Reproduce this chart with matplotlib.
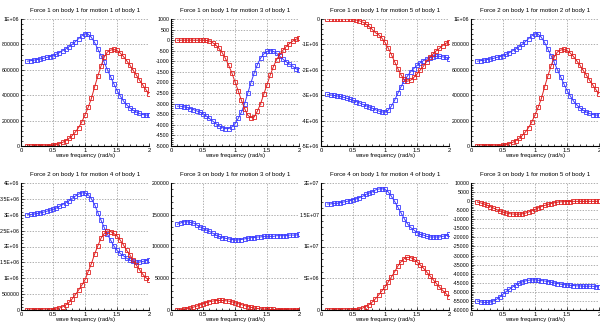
import matplotlib
matplotlib.use("Agg")
import matplotlib.pyplot as plt
from matplotlib.ticker import AutoMinorLocator
import numpy as np

plt.rcParams['font.family'] = ['Liberation Sans', 'DejaVu Sans']

freq = [0.10, 0.15, 0.20, 0.25, 0.30, 0.35, 0.40, 0.45, 0.50, 0.55,
        0.60, 0.65, 0.70, 0.75, 0.80, 0.85, 0.90, 0.95, 1.00, 1.05,
        1.10, 1.15, 1.20, 1.25, 1.30, 1.35, 1.40, 1.45, 1.50, 1.55,
        1.60, 1.65, 1.70, 1.75, 1.80, 1.85, 1.90, 1.95, 2.00]

titles = ["Force 1 on body 1 for motion 1 of body 1",
          "Force 1 on body 1 for motion 3 of body 1",
          "Force 1 on body 1 for motion 5 of body 1",
          "Force 2 on body 1 for motion 2 of body 1",
          "Force 2 on body 1 for motion 4 of body 1",
          "Force 3 on body 1 for motion 3 of body 1",
          "Force 4 on body 1 for motion 4 of body 1",
          "Force 3 on body 1 for motion 5 of body 1"]
xlabel = "wave frequency (rad/s)"

# Panel 1 (thousands)
p1_blue = [668, 672, 676, 680, 685, 690, 697, 704, 712, 722,
           735, 750, 765, 782, 800, 822, 845, 868, 885, 880,
           855, 815, 765, 712, 660, 600, 545, 490, 437, 395,
           355, 325, 300, 282, 268, 256, 248, 244, 242]
p1_red = [0, 0, 0, 0, 1, 1, 2, 3, 5, 10,
          18, 28, 42, 60, 82, 110, 145, 190, 245, 305,
          375, 465, 550, 630, 700, 740, 755, 760, 752, 732,
          705, 672, 638, 598, 560, 520, 482, 445, 410]
# Panel 2
p2_blue = [-3120, -3120, -3150, -3180, -3230, -3280, -3340, -3400, -3470, -3580,
           -3700, -3820, -3940, -4050, -4130, -4180, -4180, -4100, -3940, -3700,
           -3400, -3000, -2500, -2000, -1550, -1150, -850, -650, -530, -500,
           -530, -620, -760, -900, -1020, -1130, -1230, -1340, -1420]
p2_red = [0, 0, 0, 0, 0, 0, 0, 0, 0, -10,
          -40, -120, -230, -390, -595, -860, -1180, -1540, -1970, -2390,
          -2840, -3230, -3550, -3660, -3630, -3350, -3000, -2550, -2100, -1650,
          -1250, -920, -680, -470, -300, -160, -50, 40, 100]
# Panel 3 (millions)
p3_blue = [-2.97, -2.99, -3.01, -3.03, -3.05, -3.08, -3.12, -3.16, -3.20, -3.25,
           -3.30, -3.36, -3.41, -3.46, -3.51, -3.57, -3.62, -3.66, -3.66, -3.59,
           -3.43, -3.20, -2.93, -2.67, -2.43, -2.25, -2.08, -1.95, -1.83, -1.72,
           -1.64, -1.58, -1.53, -1.49, -1.47, -1.47, -1.49, -1.51, -1.57]
p3_red = [0, 0, 0, 0, 0, 0, 0, 0, -0.01, -0.04,
          -0.07, -0.12, -0.20, -0.29, -0.41, -0.54, -0.62, -0.75, -0.92, -1.15,
          -1.40, -1.68, -1.95, -2.20, -2.38, -2.45, -2.41, -2.30, -2.17, -2.01,
          -1.86, -1.68, -1.51, -1.38, -1.25, -1.16, -1.05, -0.96, -0.89]
# Panel 4 (thousands)
p4_blue = list(p1_blue)
p4_red = list(p1_red)
# Panel 5 (millions)
p5_blue = [3.00, 3.01, 3.02, 3.04, 3.06, 3.08, 3.11, 3.14, 3.17, 3.21,
           3.26, 3.32, 3.38, 3.44, 3.52, 3.59, 3.65, 3.69, 3.69, 3.63,
           3.50, 3.32, 3.07, 2.83, 2.60, 2.39, 2.20, 2.02, 1.88, 1.78,
           1.71, 1.63, 1.57, 1.53, 1.51, 1.51, 1.53, 1.55, 1.59]
p5_red = [0, 0, 0, 0, 0, 0, 0, 0, 0.01, 0.03,
          0.06, 0.10, 0.16, 0.24, 0.35, 0.48, 0.63, 0.78, 0.95, 1.21,
          1.46, 1.76, 2.02, 2.26, 2.41, 2.49, 2.47, 2.41, 2.33, 2.20,
          2.05, 1.88, 1.74, 1.57, 1.42, 1.27, 1.13, 1.02, 0.94]
# Panel 6 (thousands)
p6_blue = [135, 137, 139, 139, 138, 137, 134, 131, 129, 126,
           124, 121, 118, 116, 114, 113, 112, 111, 110.5, 110.5,
           111, 112, 113, 114, 114, 115, 115, 116, 116, 116,
           116, 117, 117, 117, 117, 118, 118, 118, 119]
p6_red = [0, 0.5, 1, 2, 3, 4.5, 6, 8, 10, 11.5,
          13, 14, 14.8, 15, 15, 14.6, 14, 13, 11.5, 10,
          8.5, 7, 5.5, 4.2, 3.2, 2.4, 1.8, 1.4, 1.1, 0.9,
          0.8, 0.7, 0.6, 0.6, 0.5, 0.5, 0.5, 0.5, 0.5]
# Panel 7 (millions)
p7_blue = [16.7, 16.7, 16.8, 16.8, 16.9, 17.0, 17.1, 17.2, 17.4, 17.5,
           17.7, 17.9, 18.2, 18.4, 18.6, 18.9, 19.05, 19.1, 19.0, 18.6,
           17.9, 17.1, 16.2, 15.3, 14.4, 13.6, 13.0, 12.6, 12.2, 11.9,
           11.8, 11.6, 11.5, 11.5, 11.5, 11.5, 11.6, 11.7, 11.9]
p7_red = [0, 0, 0, 0, 0, 0, 0, 0, 0, 0.05,
          0.15, 0.3, 0.55, 0.85, 1.25, 1.75, 2.35, 3.0, 3.6, 4.4,
          5.2, 6.0, 6.9, 7.6, 8.1, 8.3, 8.25, 8.0, 7.6, 7.1,
          6.6, 6.0, 5.4, 4.8, 4.2, 3.6, 3.1, 2.6, 2.1]
# Panel 8 (thousands)
p8_blue = [-55.0, -55.6, -55.8, -55.8, -55.6, -55.0, -54.1, -52.8, -51.3, -49.8,
           -48.6, -47.3, -46.2, -45.2, -44.5, -44.0, -43.6, -43.4, -43.4, -43.6,
           -43.8, -44.0, -44.3, -44.7, -45.1, -45.4, -45.8, -46.0, -46.2, -46.4,
           -46.5, -46.7, -46.7, -46.9, -46.9, -46.9, -46.9, -47.1, -47.3]
p8_red = [-0.5, -1.0, -1.5, -2.2, -3.0, -3.8, -4.6, -5.4, -6.0, -6.5,
          -6.9, -7.1, -7.2, -7.2, -7.0, -6.6, -6.0, -5.3, -4.5, -3.7,
          -3.0, -2.4, -1.8, -1.3, -0.9, -0.6, -0.4, -0.3, -0.2, -0.2,
          -0.1, -0.1, -0.1, -0.1, -0.1, -0.1, -0.1, -0.1, -0.1]

scales = [1e3, 1, 1e6, 1e3, 1e6, 1e3, 1e6, 1e3]
blues = [p1_blue, p2_blue, p3_blue, p4_blue, p5_blue, p6_blue, p7_blue, p8_blue]
reds = [p1_red, p2_red, p3_red, p4_red, p5_red, p6_red, p7_red, p8_red]

ytick_vals = [
    [0, 200000, 400000, 600000, 800000, 1000000],
    list(range(-5000, 1001, 500)),
    [-5e6, -4e6, -3e6, -2e6, -1e6, 0],
    [0, 200000, 400000, 600000, 800000, 1000000],
    [0, 5e5, 1e6, 1.5e6, 2e6, 2.5e6, 3e6, 3.5e6, 4e6],
    [0, 50000, 100000, 150000, 200000],
    [0, 5e6, 1e7, 1.5e7, 2e7],
    list(range(-60000, 10001, 5000)),
]
ytick_labels = [
    ['0', '200000', '400000', '600000', '800000', '1E+06'],
    [str(v) for v in range(-5000, 1001, 500)],
    ['-5E+06', '-4E+06', '-3E+06', '-2E+06', '-1E+06', '0'],
    ['0', '200000', '400000', '600000', '800000', '1E+06'],
    ['0', '500000', '1E+06', '1.5E+06', '2E+06', '2.5E+06', '3E+06', '3.5E+06', '4E+06'],
    ['0', '50000', '100000', '150000', '200000'],
    ['0', '5E+06', '1E+07', '1.5E+07', '2E+07'],
    [str(v) for v in range(-60000, 10001, 5000)],
]
xtick_vals = [0, 0.5, 1, 1.5, 2]
xtick_labels = ['0', '0.5', '1', '1.5', '2']

W, H = 600, 328
fig = plt.figure(figsize=(W / 100, H / 100), dpi=100)

lefts = [21, 171, 321, 471]
tops = [19, 183]
aw, ah = 128, 127

blue_c = '#3a3aff'
red_c = '#e02020'
fs = 4.2

for i in range(8):
    r, c = divmod(i, 4)
    l = lefts[c]
    t = tops[r]
    ax = fig.add_axes([l / W, 1 - (t + ah) / H, aw / W, ah / H])
    s = scales[i]
    x = np.array(freq)
    yb = np.array(blues[i]) * s
    yr = np.array(reds[i]) * s
    ax.plot(x, yb, color=blue_c, lw=0.7, marker='s', ms=2.9, mfc='none', mew=0.6)
    ax.plot(x, yr, color=red_c, lw=0.7, marker='s', ms=2.9, mfc='none', mew=0.6)
    yv = ytick_vals[i]
    ax.set_ylim(min(yv), max(yv))
    ax.set_xlim(0, 2)
    ax.set_yticks(yv)
    ax.set_yticklabels(ytick_labels[i])
    ax.set_xticks(xtick_vals)
    ax.set_xticklabels(xtick_labels)
    ax.xaxis.set_minor_locator(AutoMinorLocator(5))
    ax.yaxis.set_minor_locator(AutoMinorLocator(5))
    ax.tick_params(which='both', direction='in', labelsize=fs, pad=1.2, width=0.5)
    ax.tick_params(axis='y', labelsize=3.8)
    ax.tick_params(which='major', length=2.5)
    ax.tick_params(which='minor', length=1.5)
    ax.tick_params(top=False, right=False)
    for side in ['top', 'right']:
        ax.spines[side].set_visible(False)
    for side in ['left', 'bottom']:
        ax.spines[side].set_linewidth(0.8)
    ax.grid(True, which='major', color='#909090', lw=0.5, ls=(0, (2, 2)))
    ax.set_title(titles[i], fontsize=4.4, pad=5)
    ax.set_xlabel(xlabel, fontsize=fs, labelpad=0.5)

fig.savefig('out.png', dpi=100, facecolor='white')
